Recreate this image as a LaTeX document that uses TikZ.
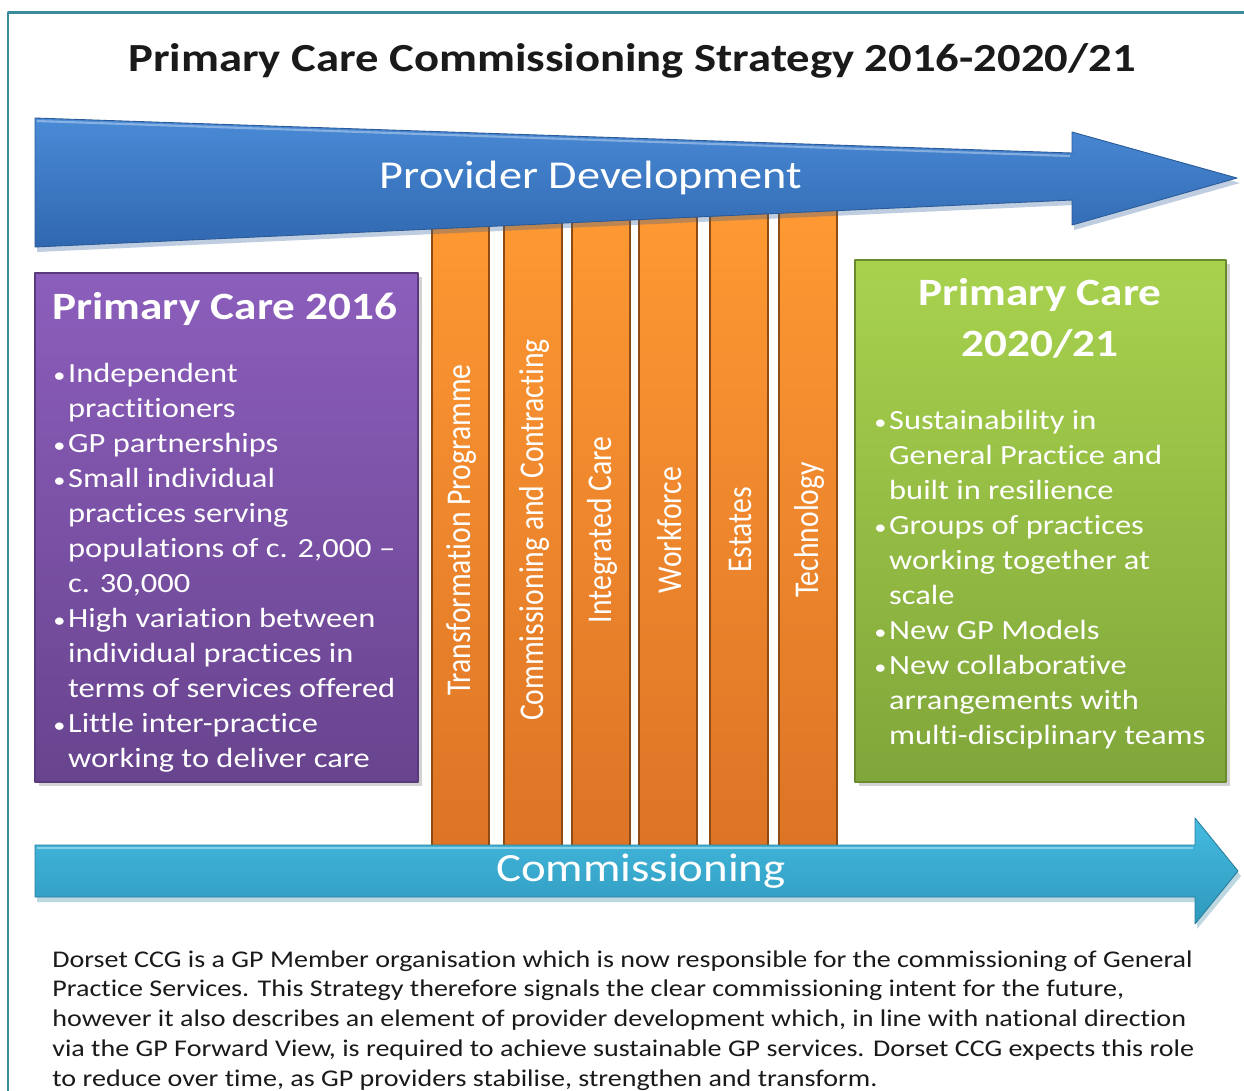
\documentclass[tikz,border=0pt]{standalone}
\usepackage{fontspec}
\setmainfont{Carlito}[FakeStretch=1.17, Ligatures=NoCommon]
\newfontfamily\pillarfont{Carlito}[Ligatures=NoCommon]
\usetikzlibrary{shadows,shadings}

\definecolor{frameteal}{HTML}{3A8C9C}
\definecolor{titleink}{HTML}{1A1A1A}
\definecolor{provtop}{HTML}{4A8AD6}
\definecolor{provbot}{HTML}{3068B0}
\definecolor{provedge}{HTML}{2A5A98}
\definecolor{commtop}{HTML}{45BBE0}
\definecolor{commbot}{HTML}{2E98BC}
\definecolor{commedge}{HTML}{2A7E9C}
\definecolor{pillartop}{HTML}{FF9A33}
\definecolor{pillarbot}{HTML}{DC7326}
\definecolor{pillaredge}{HTML}{8E4C14}
\definecolor{purpletop}{HTML}{8C5EBC}
\definecolor{purplebot}{HTML}{68448E}
\definecolor{purpleedge}{HTML}{5A3A7C}
\definecolor{greentop}{HTML}{A8D24E}
\definecolor{greenbot}{HTML}{80A63A}
\definecolor{greenedge}{HTML}{6A8A2E}

% bullet and hanging indent for the box lists
\newcommand{\pcbul}{\makebox[9pt][l]{\hspace{0.6pt}\scalebox{0.75}{•}}}
\newcommand{\pcind}{\hspace*{9pt}}

\begin{document}
\begin{tikzpicture}[x=0.02cm, y=-0.02cm, line join=round,
    pillar/.style={top color=pillartop, bottom color=pillarbot, draw=pillaredge, line width=0.6pt},
    pillarlabel/.style={rotate=90, text=white, inner sep=0pt, font=\pillarfont\fontsize{16.9}{19}\selectfont},
    boxshadow/.style={drop shadow={shadow xshift=2pt, shadow yshift=-2.5pt, opacity=0.35}},
    boxtitle/.style={text=white, inner sep=0pt, font=\bfseries\fontsize{22}{29}\selectfont},
    boxlist/.style={text=white, inner sep=0pt, align=left, anchor=north west, font=\fontsize{15.8}{19.9}\selectfont},
    arrowlabel/.style={text=white, inner sep=0pt, font=\fontsize{22.5}{27}\selectfont}
    ]
    \useasboundingbox (0,0) rectangle (1244,1090);
    \clip (0,0) rectangle (1244,1090);
    \fill[white] (0,0) rectangle (1244,1090);

    % frame
    \draw[frameteal, line width=1.7pt] (8,1100) -- (8,12) -- (1260,12);

    % title
    \node[text=titleink, inner sep=0pt, anchor=base, font=\bfseries\fontsize{22.7}{26}\selectfont] (title) at (632,71)
        {Primary Care Commissioning Strategy 2016-2020/21};

    % pillars
    \foreach \xl/\xr/\name/\lbl in {432/489/transf/Transformation Programme,
        504/562/contr/Commissioning and Contracting, 572/630/integr/Integrated Care,
        639/697/workf/Workforce, 710/768/estat/Estates, 779/837/techn/Technology}{
        \draw[pillar] (\xl,190) rectangle (\xr,860);
        \node[pillarlabel] (\name) at ({(\xl+\xr)/2+1.5},530) {\scalebox{1}[1.17]{\lbl}};
    }

    % provider development arrow
    \fill[provedge, opacity=0.3] (37,123) -- (1074,158) -- (1074,137) -- (1240,183) -- (1074,230) -- (1074,205) -- (37,252) -- cycle;
    \draw[provedge, top color=provtop, bottom color=provbot, line width=0.5pt]
        (35,118) -- (1072,153) -- (1072,132) -- (1237,178) -- (1072,225) -- (1072,200) -- (35,247) -- cycle;
    \draw[white, opacity=0.35, line width=1.2pt] (37,121) -- (1070,156);
    \node[arrowlabel] (provdev) at (591,178) {Provider Development};

    % commissioning arrow
    \fill[commedge, opacity=0.3] (37,850) -- (1197,850) -- (1197,823) -- (1241,876) -- (1197,929) -- (1197,902) -- (37,902) -- cycle;
    \draw[commedge, top color=commtop, bottom color=commbot, line width=0.5pt]
        (35,845) -- (1195,845) -- (1195,818) -- (1238,871) -- (1195,924) -- (1195,897) -- (35,897) -- cycle;
    \draw[white, opacity=0.4, line width=1.2pt] (37,848) -- (1193,848);
    \node[arrowlabel, font=\fontsize{22.8}{27}\selectfont] (comm) at (641,871) {Commissioning};

    % primary care 2016
    \draw[boxshadow, purpleedge, top color=purpletop, bottom color=purplebot, line width=0.6pt]
        (35,273) rectangle (418,782);
    \node[boxtitle, anchor=base] (pc16) at (225,319) {Primary Care 2016};
    \node[boxlist] (pc16list) at (52,363) {\pcbul Independent\\
        \pcind practitioners\\
        \pcbul GP partnerships\\
        \pcbul Small individual\\
        \pcind practices serving\\
        \pcind populations of c. 2,000 –\\
        \pcind c. 30,000\\
        \pcbul High variation between\\
        \pcind individual practices in\\
        \pcind terms of services offered\\
        \pcbul Little inter-practice\\
        \pcind working to deliver care};

    % primary care 2020/21
    \draw[boxshadow, greenedge, top color=greentop, bottom color=greenbot, line width=0.6pt]
        (855,260) rectangle (1226,782);
    \node[boxtitle, anchor=base, align=center] (pc21) at (1040,356) {Primary Care\\2020/21};
    \node[boxlist] (pc21list) at (873,410) {\pcbul Sustainability in\\
        \pcind General Practice and\\
        \pcind built in resilience\\
        \pcbul Groups of practices\\
        \pcind working together at\\
        \pcind scale\\
        \pcbul New GP Models\\
        \pcbul New collaborative\\
        \pcind arrangements with\\
        \pcind multi-disciplinary teams};

    % note below
    \node[text=titleink, inner sep=0pt, align=left, anchor=north west, font=\fontsize{13.65}{17}\selectfont] (note) at (52,950)
        {Dorset CCG is a GP Member organisation which is now responsible for the commissioning of General\\
        Practice Services. This Strategy therefore signals the clear commissioning intent for the future,\\
        however it also describes an element of provider development which, in line with national direction\\
        via the GP Forward View, is required to achieve sustainable GP services. Dorset CCG expects this role\\
        to reduce over time, as GP providers stabilise, strengthen and transform.};
\end{tikzpicture}
\end{document}
